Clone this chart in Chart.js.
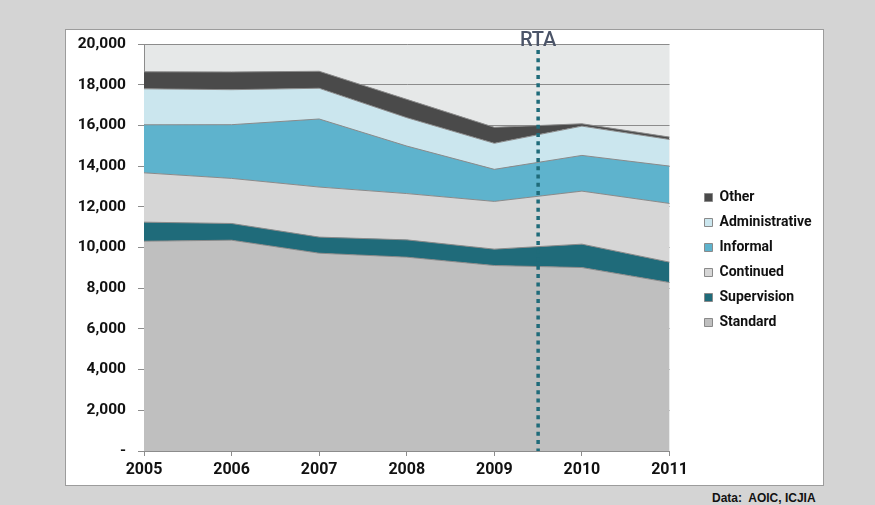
<!DOCTYPE html>
<html>
<head>
<meta charset="utf-8">
<script src="https://cdn.jsdelivr.net/npm/chart.js@4/dist/chart.umd.min.js"></script>
<style>
  body { margin: 0; background: #d4d4d4; width: 875px; height: 505px; position: relative; overflow: hidden; }
  #frame { position: absolute; left: 65px; top: 29px; width: 759px; height: 457px; background: #fff; border: 1px solid #9c9c9c; box-sizing: border-box; }
  #source { position: absolute; left: 712px; top: 491px; font: bold 12px "Liberation Sans", Arial, sans-serif; color: #111; white-space: pre; }
</style>
</head>
<body>
<div id="frame"><canvas id="areaChart" width="757" height="455"></canvas></div>
<div id="source">Data:  AOIC, ICJIA</div>
<script>
const years = ["2005", "2006", "2007", "2008", "2009", "2010", "2011"];
const standard = [10310, 10360, 9720, 9525, 9115, 9015, 8280];
const supervision = [935, 820, 790, 850, 805, 1150, 1000];
const continued = [2425, 2215, 2460, 2275, 2345, 2605, 2885];
const informal = [2360, 2640, 3345, 2335, 1575, 1755, 1835];
const administrative = [1770, 1720, 1510, 1395, 1280, 1440, 1310];
const other = [835, 870, 835, 900, 785, 115, 115];
const rtaPosition = 4.5; // between 2009 and 2010

const FONT = "Roboto, 'Liberation Sans', sans-serif";

// plot background + RTA marker
const plotBg = {
  id: "plotBg",
  beforeDraw(chart) {
    const { ctx, chartArea: a } = chart;
    ctx.save();
    ctx.fillStyle = "#e6e8e8";
    ctx.fillRect(a.left, a.top, a.right - a.left, a.bottom - a.top);
    ctx.restore();
  },
  afterDatasetsDraw(chart) {
    const { ctx, chartArea: a } = chart;
    const x = chart.scales.x.getPixelForValue(rtaPosition);
    ctx.save();
    ctx.strokeStyle = "#1f6b7a";
    ctx.lineWidth = 3.5;
    ctx.setLineDash([4, 4.3]);
    ctx.beginPath();
    ctx.moveTo(x, a.top + 6);
    ctx.lineTo(x, a.bottom);
    ctx.stroke();
    ctx.setLineDash([]);
    ctx.fillStyle = "#4b5468";
    ctx.font = "500 20px " + FONT;
    ctx.textAlign = "center";
    ctx.textBaseline = "alphabetic";
    ctx.fillText("RTA", x, a.top + 2);
    ctx.restore();
  }
};

const series = [
  { label: "Standard", data: standard, bg: "#bfbfbf" },
  { label: "Supervision", data: supervision, bg: "#1f6b7a" },
  { label: "Continued", data: continued, bg: "#d6d6d6" },
  { label: "Informal", data: informal, bg: "#5eb3cd" },
  { label: "Administrative", data: administrative, bg: "#cbe6ee" },
  { label: "Other", data: other, bg: "#4a4a4a" }
];

new Chart(document.getElementById("areaChart"), {
  type: "line",
  data: {
    labels: years,
    datasets: series.map((s, i) => ({
      label: s.label,
      data: s.data,
      backgroundColor: s.bg,
      borderColor: "#8a8a8a",
      borderWidth: 1,
      pointRadius: 0,
      tension: 0,
      fill: i === 0 ? "origin" : "-1"
    }))
  },
  options: {
    responsive: false,
    animation: false,
    layout: { padding: { top: 14, right: 4, bottom: 9 } },
    plugins: {
      tooltip: { enabled: false },
      legend: {
        position: "right",
        reverse: true,
        labels: {
          boxWidth: 8,
          boxHeight: 8,
          padding: 11,
          color: "#111",
          font: { family: FONT, size: 14, weight: "bold" }
        }
      }
    },
    scales: {
      x: {
        offset: false,
        grid: { drawOnChartArea: false, color: "#8c8c8c", tickLength: 5 },
        border: { color: "#8c8c8c" },
        ticks: { color: "#111", padding: 4, maxRotation: 0, font: { family: FONT, size: 16, weight: "bold" } },
        afterFit(s) { s.height = 25; s.paddingLeft = 0; s.paddingRight = 0; }
      },
      y: {
        stacked: true,
        min: 0,
        max: 20000,
        grid: { color: "#8c8c8c", tickLength: 6 },
        border: { color: "#8c8c8c" },
        ticks: {
          stepSize: 2000,
          color: "#111",
          padding: 12,
          font: { family: FONT, size: 15.5, weight: "bold" },
          callback: (v) => v === 0 ? "-" : v.toLocaleString("en-US")
        },
        afterFit(s) { s.width = 78; s.paddingTop = 0; s.paddingBottom = 0; }
      },
      gap: {
        type: "linear",
        position: "right",
        display: true,
        grid: { display: false },
        border: { display: false },
        ticks: { display: false },
        afterFit(s) { s.width = 24; }
      }
    }
  },
  plugins: [plotBg]
});
</script>
</body>
</html>
